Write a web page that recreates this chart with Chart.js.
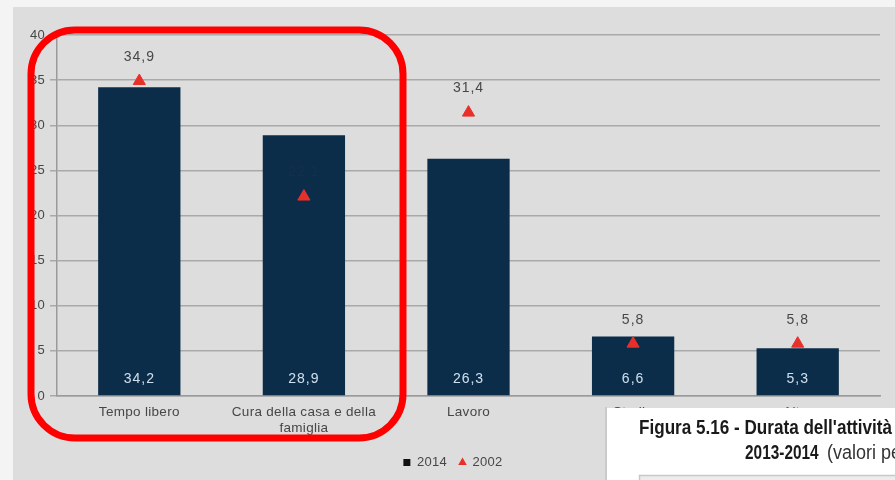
<!DOCTYPE html>
<html>
<head>
<meta charset="utf-8">
<script src="https://cdn.jsdelivr.net/npm/chart.js@4"></script>
<style>
  html, body { margin: 0; padding: 0; background: #f4f4f4; }
  canvas { display: block; }
</style>
</head>
<body>
<canvas id="c" width="895" height="480"></canvas>
<script>
// Time spent per activity type, 2014 vs 2002 (percent values)
const categories = ["Tempo libero", ["Cura della casa e della", "famiglia"], "Lavoro", "Studio", "Altro"];
const values2014 = [34.2, 28.9, 26.3, 6.6, 5.3];
const values2002 = [34.9, 22.1, 31.4, 5.8, 5.8];
const yTicks = [0, 5, 10, 15, 20, 25, 30, 35, 40];
const seriesNames = ["2014", "2002"];

const fmt = v => v.toFixed(1).replace('.', ',');
const BAR = '#0c2d4a';
const TRI = '#e8302b';
const TEXT = '#474747';
const SANS = '"Liberation Sans", Arial, sans-serif';

// slightly wide lettering for all chart text
const spacing = {
  id: 'spacing',
  beforeUpdate(chart) { chart.ctx.letterSpacing = '0.3px'; }
};

// page panel behind the chart
const panelBg = {
  id: 'panelBg',
  beforeDraw(chart) {
    const ctx = chart.ctx;
    ctx.save();
    ctx.fillStyle = '#f4f4f4';
    ctx.fillRect(0, 0, chart.width, chart.height);
    ctx.fillStyle = '#dddddd';
    ctx.fillRect(13, 7, chart.width - 13, chart.height - 7);
    ctx.restore();
  }
};

// value labels: 2002 above the triangles, 2014 inside the bars near the base
const valueLabels = {
  id: 'valueLabels',
  afterDatasetsDraw(chart) {
    const ctx = chart.ctx;
    ctx.save();
    ctx.font = '14px ' + SANS;
    ctx.letterSpacing = '1px';
    ctx.textAlign = 'center';
    ctx.textBaseline = 'middle';
    const bars = chart.getDatasetMeta(0).data;
    const pts = chart.getDatasetMeta(1).data;
    const yBase = chart.scales.y.getPixelForValue(0);
    bars.forEach((b, i) => {
      ctx.fillStyle = '#cfe0ee';
      ctx.fillText(fmt(values2014[i]), b.x, yBase - 17);
    });
    pts.forEach((p, i) => {
      const inside = chart.scales.y.getPixelForValue(values2014[i]) < p.y - 25;
      ctx.fillStyle = inside ? '#13304a' : TEXT;
      ctx.fillText(fmt(values2002[i]), p.x, p.y - 24);
    });
    ctx.restore();
  }
};

// highlight frame and caption box drawn on top
const overlay = {
  id: 'overlay',
  afterDraw(chart) {
    const ctx = chart.ctx;
    ctx.save();
    ctx.letterSpacing = '0px';
    // red rounded frame around the first two categories
    ctx.strokeStyle = '#ff0000';
    ctx.lineWidth = 7;
    ctx.beginPath();
    ctx.roundRect(31, 30, 372, 408, 44);
    ctx.stroke();

    // caption box
    ctx.fillStyle = '#c9c9c9';
    ctx.fillRect(605, 407, 2, 73);
    ctx.fillStyle = '#ffffff';
    ctx.fillRect(607, 408, 288, 72);
    ctx.fillStyle = '#ececec';
    ctx.fillRect(639, 475, 260, 10);
    ctx.strokeStyle = '#c8c8c8';
    ctx.lineWidth = 1.5;
    ctx.strokeRect(639.5, 475.5, 270, 30);

    ctx.textBaseline = 'alphabetic';
    ctx.textAlign = 'left';
    // narrow caption lettering
    const put = (text, x, y, font, color, sx) => {
      ctx.save();
      ctx.scale(sx, 1);
      ctx.font = font;
      ctx.fillStyle = color;
      ctx.fillText(text, x / sx, y);
      ctx.restore();
    };
    put("Figura 5.16 - Durata dell'attività", 639, 434, 'bold 20px ' + SANS, '#1a1a1a', 0.855);
    put("2013-2014", 745, 459, 'bold 20px ' + SANS, '#1a1a1a', 0.77);
    put("(valori percentuali)", 827, 459, '20px ' + SANS, '#333333', 0.9);
    ctx.restore();
  }
};

new Chart(document.getElementById('c'), {
  data: {
    labels: categories,
    datasets: [
      {
        type: 'bar',
        label: seriesNames[0],
        data: values2014,
        backgroundColor: BAR,
        barPercentage: 0.5,
        categoryPercentage: 1,
        order: 2
      },
      {
        type: 'line',
        label: seriesNames[1],
        data: values2002,
        showLine: false,
        pointStyle: 'triangle',
        pointRadius: 7,
        pointHoverRadius: 7,
        backgroundColor: TRI,
        borderColor: TRI,
        borderWidth: 1,
        order: 1
      }
    ]
  },
  options: {
    responsive: false,
    animation: false,
    events: [],
    layout: { padding: { top: 35, left: 26, right: 15, bottom: 1 } },
    scales: {
      x: {
        grid: { display: false, tickLength: 0 },
        border: { display: true, color: '#9a9a9a', width: 1.5 },
        ticks: {
          color: TEXT,
          font: { size: 13.5, family: SANS, lineHeight: 1.2 },
          padding: 8,
          maxRotation: 0,
          autoSkip: false
        },
        afterFit(s) { s.height = 48; }
      },
      y: {
        min: 0,
        max: 40,
        afterBuildTicks(s) { s.ticks = yTicks.map(v => ({ value: v })); },
        grid: { color: '#a9a9a9', lineWidth: 1.5, tickLength: 7, drawTicks: true },
        border: { display: true, color: '#9a9a9a', width: 1.5 },
        ticks: {
          color: TEXT,
          font: { size: 13, family: SANS },
          padding: 5
        },
        afterFit(s) { s.width = 31; }
      }
    },
    plugins: {
      legend: {
        position: 'bottom',
        labels: {
          usePointStyle: true,
          boxWidth: 7,
          boxHeight: 7,
          padding: 12,
          color: TEXT,
          font: { size: 13, family: SANS },
          generateLabels(chart) {
            return chart.data.datasets.map((d, i) => ({
              text: d.label,
              fillStyle: i === 0 ? '#111111' : TRI,
              strokeStyle: i === 0 ? '#111111' : TRI,
              lineWidth: 0,
              pointStyle: i === 0 ? 'rect' : 'triangle',
              datasetIndex: i,
              fontColor: TEXT
            }));
          }
        }
      },
      tooltip: { enabled: false }
    }
  },
  plugins: [spacing, panelBg, valueLabels, overlay]
});
</script>
</body>
</html>
